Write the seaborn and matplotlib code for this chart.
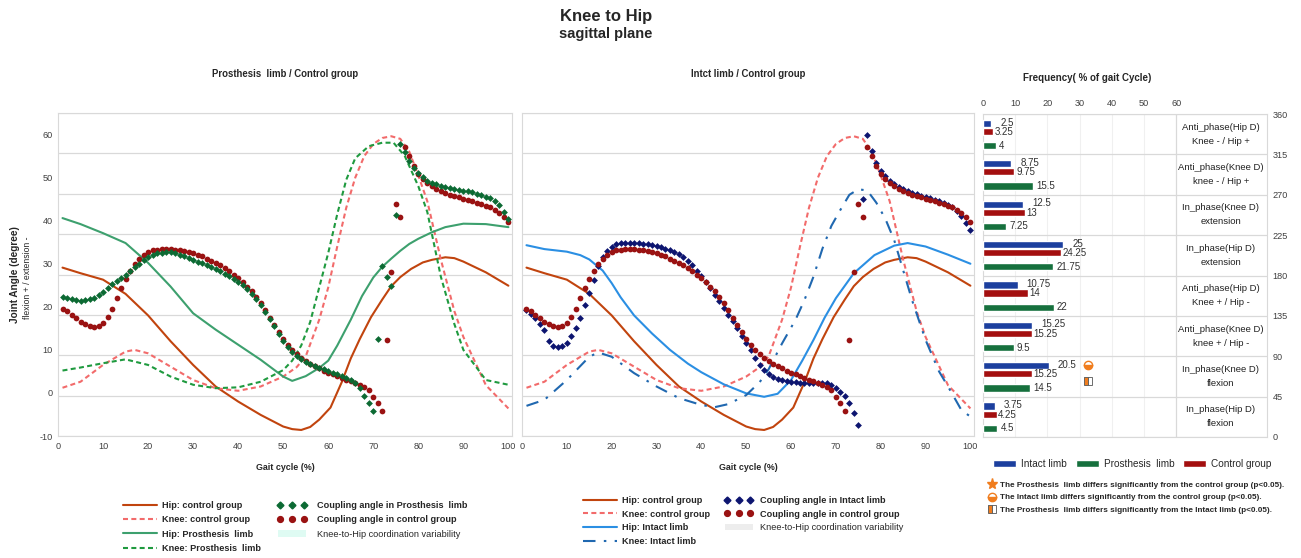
import numpy as np
import matplotlib
matplotlib.use("Agg")
import matplotlib.pyplot as plt
import seaborn as sns
from matplotlib.lines import Line2D
from matplotlib.patches import Patch

sns.set_style("white")
plt.rcParams['font.family'] = ['Liberation Sans', 'DejaVu Sans']
plt.rcParams['axes.unicode_minus'] = False

# ---- joint angle curves (gait cycle %, degrees) ----
hip_c_x = [1, 5, 10, 15, 20, 25, 30, 35, 40, 45, 50, 52, 54, 56, 58, 60.5, 63, 65, 67, 69.5, 72, 74, 76, 78.4, 81, 83, 86, 88, 90, 95, 100]
hip_c_y = [29.1, 27.8, 26.3, 23.0, 18.0, 12.0, 6.5, 1.5, -2.0, -5.1, -7.8, -8.4, -8.6, -7.9, -6.2, -3.4, 2.5, 8.0, 12.5, 17.6, 21.7, 24.8, 26.9, 28.8, 30.3, 30.9, 31.5, 31.3, 30.5, 28.0, 24.9]

knee_c_x = [1, 5, 10, 15, 17, 20, 25, 30, 35, 40, 45, 50, 53, 55, 58, 60, 62, 64, 66, 68, 70, 72, 74, 76, 78, 80, 82, 85, 88, 90, 95, 100]
knee_c_y = [1.2, 2.6, 6.5, 9.6, 10.0, 9.2, 6.1, 3.0, 1.1, 0.5, 1.5, 3.8, 6.0, 8.5, 17.0, 24.5, 34.0, 43.0, 50.0, 55.0, 57.8, 59.2, 59.6, 59.0, 56.0, 50.5, 44.5, 31.0, 19.0, 13.0, 1.8, -3.6]

hip_p_x = [1, 5, 10, 15, 20, 25, 30, 35, 40, 45, 50, 52, 55, 58, 60, 62, 65, 67.5, 70, 72, 74, 76, 78, 80, 83, 86, 90, 95, 100]
hip_p_y = [40.6, 39.2, 37.1, 34.8, 30.2, 24.7, 18.5, 14.7, 11.2, 7.7, 3.8, 2.8, 3.9, 5.8, 7.5, 11.0, 17.0, 22.5, 26.8, 29.3, 31.2, 33.0, 34.6, 35.8, 37.3, 38.5, 39.3, 39.2, 38.5]

knee_p_x = [1, 5, 10, 15, 20, 25, 30, 35, 40, 45, 50, 52, 54, 56, 58, 60, 62, 64, 66, 69, 72, 74.5, 77, 80, 82, 85, 88, 90, 95, 100]
knee_p_y = [5.2, 5.9, 6.9, 7.8, 6.5, 3.8, 1.9, 1.1, 1.3, 2.6, 5.3, 7.5, 11.0, 16.5, 24.5, 32.5, 41.5, 49.5, 54.5, 57.3, 58.1, 58.1, 55.0, 48.0, 42.0, 27.0, 16.0, 10.0, 3.0, 1.9]

hip_i_x = [1, 5, 10, 13, 15, 18, 20, 22, 25, 29, 33, 37, 40, 45, 50, 54, 57, 60, 62.5, 65, 67.5, 70, 74, 78.6, 83, 86, 90, 95, 100]
hip_i_y = [34.3, 33.4, 32.8, 32.0, 31.0, 28.4, 25.5, 22.2, 18.0, 13.8, 10.0, 6.8, 4.8, 2.0, -0.1, -0.9, -0.2, 3.0, 7.5, 12.3, 17.5, 22.0, 27.8, 32.0, 34.2, 34.8, 34.0, 32.1, 30.0]

knee_i_x = [1, 5, 10, 15, 17, 20, 25, 30, 35, 40, 43, 46, 50, 53, 55, 58, 61, 63, 65, 67, 69, 71, 73, 75, 77, 79, 81, 83, 85, 87, 90, 93, 95, 98, 100]
knee_i_y = [-3.0, -1.6, 3.0, 8.4, 9.4, 8.4, 4.6, 1.5, -1.2, -2.8, -3.3, -2.6, -0.5, 2.5, 5.5, 11.5, 17.0, 21.6, 27.0, 33.5, 38.8, 42.5, 46.0, 47.3, 47.0, 44.2, 40.5, 35.5, 28.5, 21.5, 12.3, 5.0, 1.5, -4.0, -5.5]

# ---- coupling angle samples, one per % of gait cycle (1..100) ----
coup_prosth = [22.3, 22.1, 21.8, 21.6, 21.4, 21.5, 21.7, 22.1, 22.8, 23.5,
               24.4, 25.2, 25.9, 26.6, 27.3, 28.2, 29.2, 30.0, 30.8, 31.5,
               32.0, 32.4, 32.6, 32.7, 32.7, 32.5, 32.1, 31.7, 31.3, 30.9,
               30.5, 30.1, 29.7, 29.3, 28.8, 28.3, 27.7, 27.1, 26.5, 25.8,
               25.0, 24.1, 23.0, 21.8, 20.4, 18.9, 17.2, 15.5, 13.7, 12.0,
               10.6, 9.4, 8.5, 7.8, 7.2, 6.7, 6.3, 5.9, 5.5, 5.1,
               4.7, 4.3, 3.9, 3.4, 2.9, 2.2, 1.1, -0.6, -2.4, -4.1,
               12.6, 29.4, 27.0, 24.9, 41.2, 57.7, 55.9, 53.9, 52.3, 51.1,
               50.1, 49.3, 48.8, 48.4, 48.1, 47.8, 47.6, 47.4, 47.2, 47.0,
               46.8, 46.6, 46.3, 46.0, 45.6, 45.2, 44.5, 43.6, 42.0, 40.3]

coup_control = [19.5, 19.0, 18.2, 17.3, 16.5, 15.9, 15.5, 15.4, 15.6, 16.3,
                17.7, 19.6, 22.0, 24.3, 26.5, 28.4, 30.0, 31.2, 32.1, 32.7,
                33.1, 33.3, 33.4, 33.4, 33.4, 33.3, 33.2, 33.0, 32.8, 32.5,
                32.1, 31.7, 31.2, 30.7, 30.2, 29.6, 28.9, 28.2, 27.4, 26.6,
                25.7, 24.7, 23.6, 22.3, 20.8, 19.2, 17.5, 15.8, 14.1, 12.6,
                11.2, 10.0, 9.0, 8.2, 7.5, 6.8, 6.2, 5.7, 5.2, 4.7,
                4.3, 3.9, 3.5, 3.1, 2.7, 2.3, 1.9, 1.4, 0.6, -1.0,
                -2.4, -4.3, 12.3, 28.1, 43.8, 40.9, 57.1, 54.9, 52.8, 50.9,
                49.6, 48.8, 48.0, 47.4, 46.8, 46.4, 46.0, 45.7, 45.4, 45.1,
                44.8, 44.5, 44.2, 43.9, 43.5, 43.1, 42.5, 41.7, 40.8, 39.8]

coup_intact = [19.2, 18.4, 17.4, 16.1, 14.7, 12.0, 10.8, 10.6, 10.9, 11.7,
               13.2, 15.0, 17.3, 20.5, 23.3, 26.3, 29.4, 31.6, 33.0, 34.0,
               34.5, 34.7, 34.8, 34.8, 34.8, 34.7, 34.6, 34.5, 34.3, 34.1,
               33.8, 33.5, 33.2, 32.8, 32.3, 31.6, 30.7, 29.6, 28.4, 27.1,
               25.7, 24.3, 22.8, 21.3, 19.8, 18.2, 16.6, 15.0, 13.3, 11.6,
               9.9, 8.2, 6.6, 5.3, 4.3, 3.7, 3.3, 3.0, 2.7, 2.6,
               2.5, 2.4, 2.3, 2.3, 2.3, 2.3, 2.2, 2.2, 1.8, 1.2,
               0.3, -0.7, -2.4, -4.6, -7.4, 45.1, 60.0, 56.1, 53.4, 51.6,
               50.3, 49.3, 48.5, 47.9, 47.3, 46.9, 46.5, 46.1, 45.8, 45.5,
               45.2, 44.9, 44.6, 44.2, 43.7, 43.1, 42.3, 41.1, 39.5, 37.9]

gait = np.arange(1, 101)

# ---- coupling frequency (% of gait cycle), rows from 360 deg down to 0 deg ----
phase_labels = ["Anti_phase(Hip D)\nKnee - / Hip +",
                "Anti_phase(Knee D)\nknee - / Hip +",
                "In_phase(Knee D)\nextension",
                "In_phase(Hip D)\nextension",
                "Anti_phase(Hip D)\nKnee + / Hip -",
                "Anti_phase(Knee D)\nknee + / Hip -",
                "In_phase(Knee D)\nflexion",
                "In_phase(Hip D)\nflexion"]
freq_intact = [2.5, 8.75, 12.5, 25, 10.75, 15.25, 20.5, 3.75]
freq_control = [3.25, 9.75, 13, 24.25, 14, 15.25, 15.25, 4.25]
freq_prosth = [4, 15.5, 7.25, 21.75, 22, 9.5, 14.5, 4.5]

HIP_C, KNEE_C = "#C1440E", "#F26B6B"
HIP_P, KNEE_P = "#3DA06E", "#1F9A3F"
HIP_I, KNEE_I = "#2B8FE3", "#2068B0"
DOT_P, DOT_C, DOT_I = "#0C6A33", "#9A1212", "#0D1570"
BAR_I, BAR_P, BAR_C = "#1C3F9E", "#16703D", "#A30F0F"
ORANGE = "#F07D1E"
GRID = "#D9D9D9"
DASH = (0, (2.4, 1.6))
DASHDOT = (0, (6, 4, 1.2, 4))

W, H = 1301, 558
fig = plt.figure(figsize=(W / 100, H / 100), dpi=100)
ax1 = fig.add_axes([58 / W, 1 - 436 / H, 454 / W, 323 / H])
ax2 = fig.add_axes([522 / W, 1 - 436 / H, 452 / W, 323 / H])
ax3 = fig.add_axes([983 / W, 1 - 437 / H, 284 / W, 323 / H])


def angle_grid(ax):
    # coupling angle axis 0-360 gives the horizontal grid
    tw = ax.twinx()
    tw.set_ylim(0, 360)
    tw.set_yticks(np.arange(0, 361, 45))
    tw.grid(True, axis="y", color=GRID, lw=0.9)
    tw.tick_params(right=False, labelright=False)
    for s in tw.spines.values():
        s.set_visible(False)
    ax.set_zorder(tw.get_zorder() + 1)
    ax.patch.set_visible(False)


for ax in (ax1, ax2):
    angle_grid(ax)
    ax.set_xlim(0, 100.8)
    ax.set_ylim(-10, 65)
    ax.set_xticks(range(0, 101, 10))
    ax.set_yticks(range(-10, 61, 10))
    ax.tick_params(length=0, labelsize=6.6, labelcolor="#404040", pad=4)
    for s in ax.spines.values():
        s.set_color(GRID)
    ax.set_xlabel("Gait cycle (%)", fontsize=6.4, fontweight="bold", labelpad=9)
ax2.set_yticklabels([])

# left panel: prosthesis limb vs control
sns.lineplot(x=hip_c_x, y=hip_c_y, ax=ax1, color=HIP_C, lw=1.5)
sns.lineplot(x=knee_c_x, y=knee_c_y, ax=ax1, color=KNEE_C, lw=1.5, linestyle=DASH)
sns.lineplot(x=hip_p_x, y=hip_p_y, ax=ax1, color=HIP_P, lw=1.5)
sns.lineplot(x=knee_p_x, y=knee_p_y, ax=ax1, color=KNEE_P, lw=1.5, linestyle=DASH)
sns.scatterplot(x=gait, y=coup_control, ax=ax1, color=DOT_C, s=17, linewidth=0, zorder=3)
sns.scatterplot(x=gait, y=coup_prosth, ax=ax1, color=DOT_P, marker="D", s=12, linewidth=0,
                zorder=4)

# middle panel: intact limb vs control
sns.lineplot(x=hip_c_x, y=hip_c_y, ax=ax2, color=HIP_C, lw=1.5)
sns.lineplot(x=knee_c_x, y=knee_c_y, ax=ax2, color=KNEE_C, lw=1.5, linestyle=DASH)
sns.lineplot(x=hip_i_x, y=hip_i_y, ax=ax2, color=HIP_I, lw=1.5)
sns.lineplot(x=knee_i_x, y=knee_i_y, ax=ax2, color=KNEE_I, lw=1.5, linestyle=DASHDOT)
sns.scatterplot(x=gait, y=coup_intact, ax=ax2, color=DOT_I, marker="D", s=12, linewidth=0,
                zorder=3)
sns.scatterplot(x=gait, y=coup_control, ax=ax2, color=DOT_C, s=17, linewidth=0, zorder=4)

ax1.set_ylabel("")
ax2.set_ylabel("")
ax1.set_title("Prosthesis  limb / Control group", fontsize=6.9, fontweight="bold", pad=26)
ax2.set_title("Intct limb / Control group", fontsize=6.9, fontweight="bold", pad=26)

# right panel: coupling frequency bars
row_base = 360 - 45 * (np.arange(len(phase_labels)) + 1)
bh = 8
ax3.barh(row_base + 34.5, freq_intact, height=bh, color=BAR_I, zorder=3)
ax3.barh(row_base + 25.5, freq_control, height=bh, color=BAR_C, zorder=3)
ax3.barh(row_base + 9.7, freq_prosth, height=bh, color=BAR_P, zorder=3)
for b, vi, vc, vp in zip(row_base, freq_intact, freq_control, freq_prosth):
    ax3.text(vi + 2.8, b + 35.5, f"{vi:g}", fontsize=7, va="center", color="#303030")
    ax3.text(vc + 0.5, b + 25, f"{vc:g}", fontsize=7, va="center", color="#303030")
    ax3.text(vp + 1.0, b + 9.7, f"{vp:g}", fontsize=7, va="center", color="#303030")
for b, lab in zip(row_base, phase_labels):
    ax3.text(73.9, b + 22.5, lab, fontsize=6.8, ha="center", va="center",
             color="#202020", linespacing=1.7)

# significance marks on In_phase(Knee D) flexion
ax3.plot(32.6, row_base[6] + 35.3, marker="o", ms=6, fillstyle="bottom", mfc=ORANGE,
         mfcalt="white", mec=ORANGE, ls="none", zorder=4)
ax3.plot(32.6, row_base[6] + 17.4, marker="s", ms=5.5, fillstyle="left", mfc=ORANGE,
         mfcalt="white", mec="#555555", mew=0.6, ls="none", zorder=4)

ax3.set_xlim(0, 88.2)
ax3.set_ylim(0, 360)
ax3.set_xticks(range(0, 61, 10))
ax3.set_yticks(range(0, 361, 45))
ax3.xaxis.tick_top()
ax3.yaxis.tick_right()
ax3.tick_params(length=0, labelsize=6.6, labelcolor="#404040", pad=4)
ax3.grid(True, axis="y", color=GRID, lw=0.9)
for xv in range(10, 60, 10):
    ax3.axvline(xv, color="#F0F0F0", lw=0.8, zorder=0)
ax3.axvline(60, color=GRID, lw=0.9, zorder=1)
for s in ax3.spines.values():
    s.set_color(GRID)

# titles and axis text
fig.text(606 / W, 1 - 17 / H, "Knee to Hip", ha="center", va="center", fontsize=12, fontweight="bold")
fig.text(606 / W, 1 - 34 / H, "sagittal plane", ha="center", va="center", fontsize=10.5, fontweight="bold")
fig.text(1087 / W, 1 - 78 / H, "Frequency( % of gait Cycle)", ha="center", va="center",
         fontsize=7, fontweight="bold")
fig.text(15 / W, 1 - 275 / H, "Joint Angle (degree)", rotation=90, ha="center", va="center",
         fontsize=7.2, fontweight="bold")
fig.text(28 / W, 1 - 278 / H, "flexion + / extension -", rotation=90, ha="center", va="center",
         fontsize=6.2)

# legends
LEG_FS = 6.6


def add_legend(handles, labels, x, y, **kw):
    opts = dict(frameon=False, loc="upper left", borderpad=0, labelspacing=0.57,
                prop={"weight": "bold", "size": LEG_FS})
    opts.update(kw)
    return fig.legend(handles, labels, bbox_to_anchor=(x / W, 1 - y / H), **opts)


add_legend([Line2D([], [], color=HIP_C, lw=1.5),
            Line2D([], [], color=KNEE_C, lw=1.5, ls=DASH),
            Line2D([], [], color=HIP_P, lw=1.5),
            Line2D([], [], color=KNEE_P, lw=1.5, ls=DASH)],
           ["Hip: control group", "Knee: control group", "Hip: Prosthesis  limb",
            "Knee: Prosthesis  limb"], 118, 496.5, handlelength=3.7, handletextpad=0.65)
lg = add_legend([Line2D([], [], color=DOT_P, marker="D", ms=3.5, ls="none"),
                 Line2D([], [], color=DOT_C, marker="o", ms=4.2, ls="none"),
                 Patch(facecolor="#DFFBF3", edgecolor="none")],
                ["Coupling angle in Prosthesis  limb", "Coupling angle in control group",
                 "Knee-to-Hip coordination variability"], 273, 496.5,
                handlelength=3.15, handletextpad=1.1, numpoints=3)
lg.get_texts()[2].set_fontweight("normal")

add_legend([Line2D([], [], color=HIP_C, lw=1.5),
            Line2D([], [], color=KNEE_C, lw=1.5, ls=DASH),
            Line2D([], [], color=HIP_I, lw=1.5),
            Line2D([], [], color=KNEE_I, lw=1.5, ls=DASHDOT)],
           ["Hip: control group", "Knee: control group", "Hip: Intact limb",
            "Knee: Intact limb"], 578, 491.5, handlelength=3.7, handletextpad=0.65,
           labelspacing=0.5)
lg = add_legend([Line2D([], [], color=DOT_I, marker="D", ms=3.5, ls="none"),
                 Line2D([], [], color=DOT_C, marker="o", ms=4.2, ls="none"),
                 Patch(facecolor="#EDEDED", edgecolor="none")],
                ["Coupling angle in Intact limb", "Coupling angle in control group",
                 "Knee-to-Hip coordination variability"], 720, 491.5,
                handlelength=3.1, handletextpad=0.8, numpoints=3, labelspacing=0.5)
lg.get_texts()[2].set_fontweight("normal")

add_legend([Patch(facecolor=BAR_I), Patch(facecolor=BAR_P), Patch(facecolor=BAR_C)],
           ["Intact limb", "Prosthesis  limb", "Control group"], 988, 454,
           ncol=3, handlelength=2.3, handleheight=0.7, handletextpad=0.5, columnspacing=0.9,
           prop={"size": 7.2})
add_legend([Line2D([], [], color=ORANGE, marker="*", ms=8, ls="none"),
            Line2D([], [], marker="o", ms=6, fillstyle="bottom", mfc=ORANGE, mfcalt="white",
                   mec=ORANGE, ls="none"),
            Line2D([], [], marker="s", ms=5.5, fillstyle="left", mfc=ORANGE, mfcalt="white",
                   mec="#555555", mew=0.6, ls="none")],
           ["The Prosthesis  limb differs significantly from the control group (p<0.05).",
            "The Intact limb differs significantly from the control group (p<0.05).",
            "The Prosthesis  limb differs significantly from the Intact limb (p<0.05)."],
           984, 477, handlelength=1.0, handletextpad=0.4, labelspacing=0.6,
           prop={"weight": "bold", "size": 5.9})

fig.savefig("out.png", dpi=100, facecolor="white")
